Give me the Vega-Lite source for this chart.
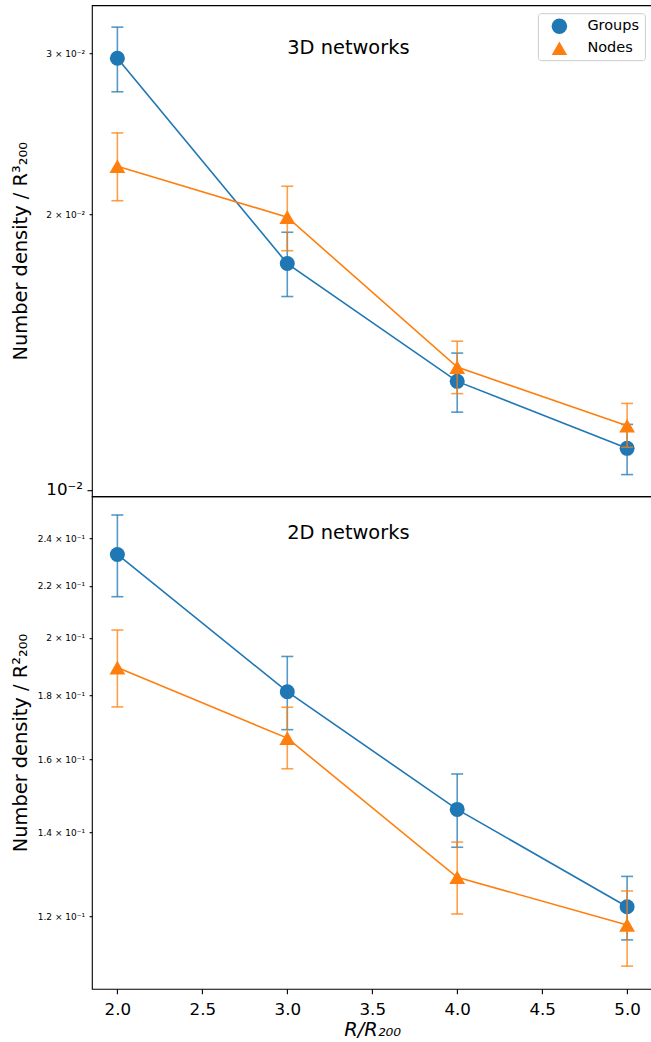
{
  "$schema": "https://vega.github.io/schema/vega-lite/v6.json",
  "autosize": {"type": "pad"},
  "padding": {"left": 8.9, "top": 4.2, "right": 0, "bottom": 0},
  "background": "white",
  "bounds": "flush",
  "data": {"values": [
    {"panel": "3D", "series": "Groups", "x": 2, "y": 0.02965, "lo": 0.02725, "hi": 0.03207},
    {"panel": "3D", "series": "Groups", "x": 3, "y": 0.01768, "lo": 0.01627, "hi": 0.01913},
    {"panel": "3D", "series": "Groups", "x": 4, "y": 0.01314, "lo": 0.01216, "hi": 0.01411},
    {"panel": "3D", "series": "Groups", "x": 5, "y": 0.01110, "lo": 0.01039, "hi": 0.01179},
    {"panel": "3D", "series": "Nodes", "x": 2, "y": 0.02259, "lo": 0.02071, "hi": 0.02457},
    {"panel": "3D", "series": "Nodes", "x": 3, "y": 0.01987, "lo": 0.01826, "hi": 0.02148},
    {"panel": "3D", "series": "Nodes", "x": 4, "y": 0.01362, "lo": 0.01274, "hi": 0.01454},
    {"panel": "3D", "series": "Nodes", "x": 5, "y": 0.01175, "lo": 0.01113, "hi": 0.01243},
    {"panel": "2D", "series": "Groups", "x": 2, "y": 0.2331, "lo": 0.2157, "hi": 0.2506},
    {"panel": "2D", "series": "Groups", "x": 3, "y": 0.1812, "lo": 0.1690, "hi": 0.1933},
    {"panel": "2D", "series": "Groups", "x": 4, "y": 0.1460, "lo": 0.1362, "hi": 0.1558},
    {"panel": "2D", "series": "Groups", "x": 5, "y": 0.1221, "lo": 0.1149, "hi": 0.1291},
    {"panel": "2D", "series": "Nodes", "x": 2, "y": 0.1894, "lo": 0.1762, "hi": 0.2029},
    {"panel": "2D", "series": "Nodes", "x": 3, "y": 0.1664, "lo": 0.1573, "hi": 0.1761},
    {"panel": "2D", "series": "Nodes", "x": 4, "y": 0.1289, "lo": 0.1205, "hi": 0.1375},
    {"panel": "2D", "series": "Nodes", "x": 5, "y": 0.1181, "lo": 0.1095, "hi": 0.1257}
  ]},
  "spacing": 0,
  "resolve": {"scale": {"y": "independent"}, "legend": {"color": "independent", "shape": "independent"}},
  "config": {
    "font": "DejaVu Sans",
    "view": {"stroke": "black", "strokeWidth": 1.1},
    "concat": {"spacing": 0},
    "axis": {"grid": false, "domain": false, "tickColor": "black", "tickWidth": 1.1, "labelColor": "black", "titleColor": "black", "labelFont": "DejaVu Sans", "titleFont": "DejaVu Sans", "titleFontWeight": "normal"}
  },
  "vconcat": [
    {
      "width": 560.7,
      "height": 491,
      "transform": [{"filter": "datum.panel == '3D'"}],
      "encoding": {
        "x": {"field": "x", "type": "quantitative", "scale": {"domain": [1.85, 5.15], "nice": false, "zero": false}, "axis": null}
      },
      "layer": [
        {
          "transform": [{"filter": "datum.series == 'Groups'"}],
          "layer": [
            {"mark": {"type": "rule", "strokeWidth": 1.6, "opacity": 0.75},
             "encoding": {
               "y": {"field": "lo", "type": "quantitative", "scale": {"type": "log", "domain": [0.00984, 0.03389], "nice": false, "zero": false},
                     "axis": {"title": "Number density / R³₂₀₀", "values": [0.01, 0.02, 0.03],
                              "labelExpr": "datum.value < 0.015 ? '10⁻²' : format(datum.value*100, '.2~g') + ' × 10⁻²'",
                              "labelFontSize": {"condition": {"test": "datum.value < 0.015", "value": 16.7}, "value": 9},
                              "tickSize": {"condition": {"test": "datum.value < 0.015", "value": 4.9}, "value": 2.8},
                              "labelPadding": 4.5, "labelBaseline": "middle",
                              "titleFontSize": 19.4, "titleAngle": 270, "titleX": -65.6, "titleY": 245.5, "titleAlign": "center", "titleBaseline": "alphabetic"}},
               "y2": {"field": "hi"},
               "stroke": {"field": "series", "type": "nominal", "scale": {"domain": ["Groups", "Nodes"], "range": ["#1f77b4", "#ff7f0e"]}, "legend": null}
             }},
            {"mark": {"type": "tick", "orient": "horizontal", "size": 12, "thickness": 1.6, "opacity": 0.75},
             "encoding": {"y": {"field": "lo", "type": "quantitative"},
               "fill": {"field": "series", "type": "nominal", "scale": {"domain": ["Groups", "Nodes"], "range": ["#1f77b4", "#ff7f0e"]}, "legend": null}}},
            {"mark": {"type": "tick", "orient": "horizontal", "size": 12, "thickness": 1.6, "opacity": 0.75},
             "encoding": {"y": {"field": "hi", "type": "quantitative"},
               "fill": {"field": "series", "type": "nominal", "scale": {"domain": ["Groups", "Nodes"], "range": ["#1f77b4", "#ff7f0e"]}, "legend": null}}},
            {"mark": {"type": "line", "strokeWidth": 1.6},
             "encoding": {"y": {"field": "y", "type": "quantitative"},
               "stroke": {"field": "series", "type": "nominal", "scale": {"domain": ["Groups", "Nodes"], "range": ["#1f77b4", "#ff7f0e"]}, "legend": null}}},
            {"mark": {"type": "point", "filled": true, "opacity": 1, "strokeWidth": 0},
             "encoding": {"y": {"field": "y", "type": "quantitative"},
               "color": {"field": "series", "type": "nominal", "scale": {"domain": ["Groups", "Nodes"], "range": ["#1f77b4", "#ff7f0e"]},
                         "legend": {"title": null, "orient": "top-right", "offset": 7.5, "labelFontSize": 14.5, "labelFont": "DejaVu Sans", "labelColor": "black", "symbolSize": 240, "symbolOpacity": 1, "symbolStrokeWidth": 0, "padding": 5, "symbolOffset": 8.5, "labelOffset": 20, "rowPadding": 6, "strokeColor": "#cccccc", "fillColor": "rgba(255,255,255,0.8)", "cornerRadius": 3}},
               "shape": {"field": "series", "type": "nominal", "scale": {"domain": ["Groups", "Nodes"], "range": ["circle", "triangle-up"]},
                         "legend": {"title": null, "orient": "top-right", "offset": 7.5, "labelFontSize": 14.5, "labelFont": "DejaVu Sans", "labelColor": "black", "symbolSize": 240, "symbolOpacity": 1, "symbolStrokeWidth": 0, "padding": 5, "symbolOffset": 8.5, "labelOffset": 20, "rowPadding": 6, "strokeColor": "#cccccc", "fillColor": "rgba(255,255,255,0.8)", "cornerRadius": 3}},
               "size": {"field": "series", "type": "nominal", "scale": {"domain": ["Groups", "Nodes"], "range": [225, 250]}, "legend": null}}}
          ]
        },
        {
          "transform": [{"filter": "datum.series == 'Nodes'"}],
          "layer": [
            {"mark": {"type": "rule", "strokeWidth": 1.6, "opacity": 0.75},
             "encoding": {"y": {"field": "lo", "type": "quantitative"}, "y2": {"field": "hi"},
               "stroke": {"field": "series", "type": "nominal", "legend": null}}},
            {"mark": {"type": "tick", "orient": "horizontal", "size": 12, "thickness": 1.6, "opacity": 0.75},
             "encoding": {"y": {"field": "lo", "type": "quantitative"}, "fill": {"field": "series", "type": "nominal", "legend": null}}},
            {"mark": {"type": "tick", "orient": "horizontal", "size": 12, "thickness": 1.6, "opacity": 0.75},
             "encoding": {"y": {"field": "hi", "type": "quantitative"}, "fill": {"field": "series", "type": "nominal", "legend": null}}},
            {"mark": {"type": "line", "strokeWidth": 1.6},
             "encoding": {"y": {"field": "y", "type": "quantitative"}, "stroke": {"field": "series", "type": "nominal", "legend": null}}},
            {"mark": {"type": "point", "filled": true, "opacity": 1, "strokeWidth": 0},
             "encoding": {"y": {"field": "y", "type": "quantitative"},
               "color": {"field": "series", "type": "nominal"},
               "shape": {"field": "series", "type": "nominal"},
               "size": {"field": "series", "type": "nominal", "legend": null}}}
          ]
        },
        {
          "transform": [{"filter": "datum.series == 'Groups' && datum.x == 2"}],
          "mark": {"type": "text", "text": "3D networks", "align": "left", "baseline": "alphabetic", "fontSize": 19.4, "font": "DejaVu Sans", "color": "black"},
          "encoding": {"x": {"datum": 3}, "y": {"datum": 0.03}}
        }
      ]
    },
    {
      "width": 560.7,
      "height": 492.6,
      "transform": [{"filter": "datum.panel == '2D'"}],
      "encoding": {
        "x": {"field": "x", "type": "quantitative", "scale": {"domain": [1.85, 5.15], "nice": false, "zero": false},
              "axis": {"title": "R/R₂₀₀", "values": [2, 2.5, 3, 3.5, 4, 4.5, 5], "format": ".1f", "labelFontSize": 16.7, "tickSize": 4.9, "labelPadding": 8, "labelFlush": false,
                       "titleFontSize": 19.4, "titleFontStyle": "italic", "titleBaseline": "alphabetic", "titleY": 46.7}}
      },
      "layer": [
        {
          "transform": [{"filter": "datum.series == 'Groups'"}],
          "layer": [
            {"mark": {"type": "rule", "strokeWidth": 1.6, "opacity": 0.75},
             "encoding": {
               "y": {"field": "lo", "type": "quantitative", "scale": {"type": "log", "domain": [0.10504, 0.2594], "nice": false, "zero": false},
                     "axis": {"title": "Number density / R²₂₀₀", "values": [0.12, 0.14, 0.16, 0.18, 0.2, 0.22, 0.24],
                              "labelExpr": "format(datum.value*10, '.2~g') + ' × 10⁻¹'",
                              "labelFontSize": 9, "tickSize": 2.8, "labelPadding": 4.5, "labelBaseline": "middle",
                              "titleFontSize": 19.4, "titleAngle": 270, "titleX": -65.6, "titleY": 246.3, "titleAlign": "center", "titleBaseline": "alphabetic"}},
               "y2": {"field": "hi"},
               "stroke": {"field": "series", "type": "nominal", "scale": {"domain": ["Groups", "Nodes"], "range": ["#1f77b4", "#ff7f0e"]}, "legend": null}
             }},
            {"mark": {"type": "tick", "orient": "horizontal", "size": 12, "thickness": 1.6, "opacity": 0.75},
             "encoding": {"y": {"field": "lo", "type": "quantitative"},
               "fill": {"field": "series", "type": "nominal", "scale": {"domain": ["Groups", "Nodes"], "range": ["#1f77b4", "#ff7f0e"]}, "legend": null}}},
            {"mark": {"type": "tick", "orient": "horizontal", "size": 12, "thickness": 1.6, "opacity": 0.75},
             "encoding": {"y": {"field": "hi", "type": "quantitative"},
               "fill": {"field": "series", "type": "nominal", "scale": {"domain": ["Groups", "Nodes"], "range": ["#1f77b4", "#ff7f0e"]}, "legend": null}}},
            {"mark": {"type": "line", "strokeWidth": 1.6},
             "encoding": {"y": {"field": "y", "type": "quantitative"},
               "stroke": {"field": "series", "type": "nominal", "scale": {"domain": ["Groups", "Nodes"], "range": ["#1f77b4", "#ff7f0e"]}, "legend": null}}},
            {"mark": {"type": "point", "filled": true, "opacity": 1, "strokeWidth": 0},
             "encoding": {"y": {"field": "y", "type": "quantitative"},
               "color": {"field": "series", "type": "nominal", "scale": {"domain": ["Groups", "Nodes"], "range": ["#1f77b4", "#ff7f0e"]}, "legend": null},
               "shape": {"field": "series", "type": "nominal", "scale": {"domain": ["Groups", "Nodes"], "range": ["circle", "triangle-up"]}, "legend": null},
               "size": {"field": "series", "type": "nominal", "scale": {"domain": ["Groups", "Nodes"], "range": [225, 250]}, "legend": null}}}
          ]
        },
        {
          "transform": [{"filter": "datum.series == 'Nodes'"}],
          "layer": [
            {"mark": {"type": "rule", "strokeWidth": 1.6, "opacity": 0.75},
             "encoding": {"y": {"field": "lo", "type": "quantitative"}, "y2": {"field": "hi"},
               "stroke": {"field": "series", "type": "nominal", "legend": null}}},
            {"mark": {"type": "tick", "orient": "horizontal", "size": 12, "thickness": 1.6, "opacity": 0.75},
             "encoding": {"y": {"field": "lo", "type": "quantitative"}, "fill": {"field": "series", "type": "nominal", "legend": null}}},
            {"mark": {"type": "tick", "orient": "horizontal", "size": 12, "thickness": 1.6, "opacity": 0.75},
             "encoding": {"y": {"field": "hi", "type": "quantitative"}, "fill": {"field": "series", "type": "nominal", "legend": null}}},
            {"mark": {"type": "line", "strokeWidth": 1.6},
             "encoding": {"y": {"field": "y", "type": "quantitative"}, "stroke": {"field": "series", "type": "nominal", "legend": null}}},
            {"mark": {"type": "point", "filled": true, "opacity": 1, "strokeWidth": 0},
             "encoding": {"y": {"field": "y", "type": "quantitative"},
               "color": {"field": "series", "type": "nominal", "legend": null},
               "shape": {"field": "series", "type": "nominal", "legend": null},
               "size": {"field": "series", "type": "nominal", "legend": null}}}
          ]
        },
        {
          "transform": [{"filter": "datum.series == 'Groups' && datum.x == 2"}],
          "mark": {"type": "text", "text": "2D networks", "align": "left", "baseline": "alphabetic", "fontSize": 19.4, "font": "DejaVu Sans", "color": "black"},
          "encoding": {"x": {"datum": 3}, "y": {"datum": 0.24}}
        }
      ]
    }
  ]
}
